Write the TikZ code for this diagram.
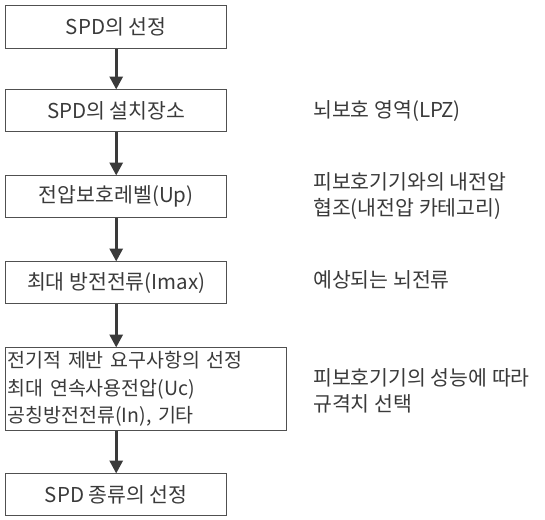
\documentclass[tikz,border=0pt]{standalone}
\usepackage{fontspec}
\setmainfont{Noto Sans CJK KR}
\usetikzlibrary{arrows.meta}
\definecolor{ink}{HTML}{3A3A3A}
\definecolor{edge}{HTML}{505050}
\tikzset{
  box/.style={draw=edge, line width=1.4pt, rectangle, inner sep=0pt, text=ink, font=\fontsize{20.5}{27}\selectfont},
  note/.style={anchor=west, align=left, inner sep=0pt, text=ink, font=\fontsize{20.5}{26}\selectfont},
  flow/.style={draw=ink, line width=3pt, -{Triangle[length=13pt,width=13pt]}, shorten >=-0.5pt}
}
\begin{document}
\begin{tikzpicture}[x=1pt,y=-1pt]
\useasboundingbox (0,0) rectangle (545,519);
\node[box, minimum width=221pt, minimum height=43pt, anchor=north west] (b1) at (5,5) {SPD의 선정};
\node[box, minimum width=221pt, minimum height=42pt, anchor=north west] (b2) at (5,89) {SPD의 설치장소};
\node[box, minimum width=221pt, minimum height=42pt, anchor=north west] (b3) at (5,175) {전압보호레벨(Up)};
\node[box, minimum width=221pt, minimum height=42pt, anchor=north west] (b4) at (5,261) {최대 방전전류(Imax)};
\node[box, minimum width=281pt, minimum height=83pt, anchor=north west, align=left, text width=277pt, inner xsep=2pt, font=\fontsize{19.5}{27.5}\selectfont] (b5) at (5,347) {전기적 제반 요구사항의 선정\\최대 연속사용전압(Uc)\\공칭방전전류(In), 기타};
\node[box, minimum width=221pt, minimum height=42pt, anchor=north west] (b6) at (5,473) {SPD 종류의 선정};

\draw[flow] (b1.south) -- (b2.north);
\draw[flow] (b2.south) -- (b3.north);
\draw[flow] (b3.south) -- (b4.north);
\draw[flow] (b4.south) -- (b4.south |- b5.north);
\draw[flow] (b4.south |- b5.south) -- (b6.north);

\node[note] (t2) at (313,111) {뇌보호 영역(LPZ)};
\node[note] (t3) at (313,196) {피보호기기와의 내전압\\협조(내전압 카테고리)};
\node[note] (t4) at (313,280) {예상되는 뇌전류};
\node[note] (t5) at (313,391) {피보호기기의 성능에 따라\\규격치 선택};
\end{tikzpicture}
\end{document}
